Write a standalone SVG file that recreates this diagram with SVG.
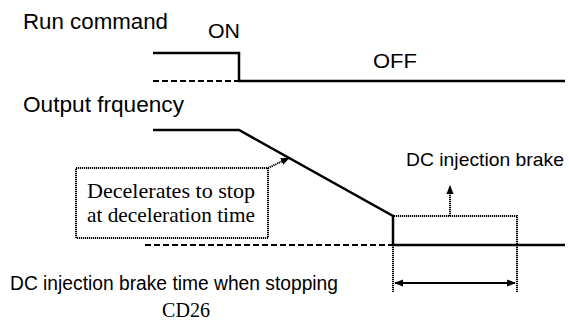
<svg xmlns="http://www.w3.org/2000/svg" width="569" height="322" viewBox="0 0 569 322">
<style>
.sans{font-family:"Liberation Sans",Arial,sans-serif;fill:#000}
.serif{font-family:"Liberation Serif","Times New Roman",serif;fill:#000}
.solid{fill:none;stroke:#000;stroke-width:2.5}
.dash{fill:none;stroke:#000;stroke-width:2;stroke-dasharray:6 3}
.dot{fill:none;stroke:#000;stroke-width:2;stroke-dasharray:1.2 0.8}
</style>
<defs>
<marker id="ah" viewBox="0 0 10 10" refX="9" refY="5" markerWidth="9" markerHeight="9" orient="auto-start-reverse" markerUnits="userSpaceOnUse">
<path d="M0,1 L10,5 L0,9 z" fill="#000"/>
</marker>
<marker id="ah2" viewBox="0 0 10 10" refX="9" refY="5" markerWidth="9" markerHeight="9" orient="auto-start-reverse" markerUnits="userSpaceOnUse">
<path d="M0,1 L10,5 L0,9 z" fill="#000"/>
</marker>
</defs>
<g id="run-command">
<text class="sans" x="23" y="29" font-size="22" textLength="145" lengthAdjust="spacingAndGlyphs">Run command</text>
<text class="sans" x="208" y="38" font-size="20" textLength="32" lengthAdjust="spacingAndGlyphs">ON</text>
<text class="sans" x="373" y="68" font-size="20" textLength="44" lengthAdjust="spacingAndGlyphs">OFF</text>
</g>
<g id="output-frequency">
<text class="sans" x="23" y="112" font-size="22" textLength="161" lengthAdjust="spacingAndGlyphs">Output frquency</text>
</g>
<g id="decel-box">
<rect class="dot" x="76" y="168" width="192" height="70"/>
<text class="serif" x="87" y="198" font-size="22" textLength="168" lengthAdjust="spacingAndGlyphs">Decelerates to stop</text>
<text class="serif" x="87" y="222" font-size="22" textLength="168" lengthAdjust="spacingAndGlyphs">at deceleration time</text>
</g>
<g id="dc-brake">
<text class="sans" x="406" y="166" font-size="19" textLength="158" lengthAdjust="spacingAndGlyphs">DC injection brake</text>
<polyline class="dot" points="393,245 393,216 517,216 517,292"/>
</g>
<g id="brake-time">
<text class="sans" x="10" y="290" font-size="20" textLength="328" lengthAdjust="spacingAndGlyphs">DC injection brake time when stopping</text>
<text class="serif" x="162" y="317" font-size="20" textLength="48" lengthAdjust="spacingAndGlyphs">CD26</text>
</g>
<g id="connectors">
<polyline class="solid" points="153,53 239,53 239,81 565,81"/>
<line class="dash" x1="153" y1="81" x2="239" y2="81"/>
<polyline class="solid" points="153,130 239,130 393,216 393,245 565,245"/>
<line class="dash" x1="145" y1="245" x2="392" y2="245"/>
<line class="dot" x1="393" y1="245" x2="393" y2="292"/>
<line class="dot" x1="268" y1="168" x2="289" y2="158" marker-end="url(#ah)"/>
<line class="dot" x1="450" y1="216" x2="450" y2="186" marker-end="url(#ah)"/>
<line x1="395" y1="283" x2="515" y2="283" stroke="#000" stroke-width="2" marker-start="url(#ah2)" marker-end="url(#ah2)"/>
</g>
</svg>
